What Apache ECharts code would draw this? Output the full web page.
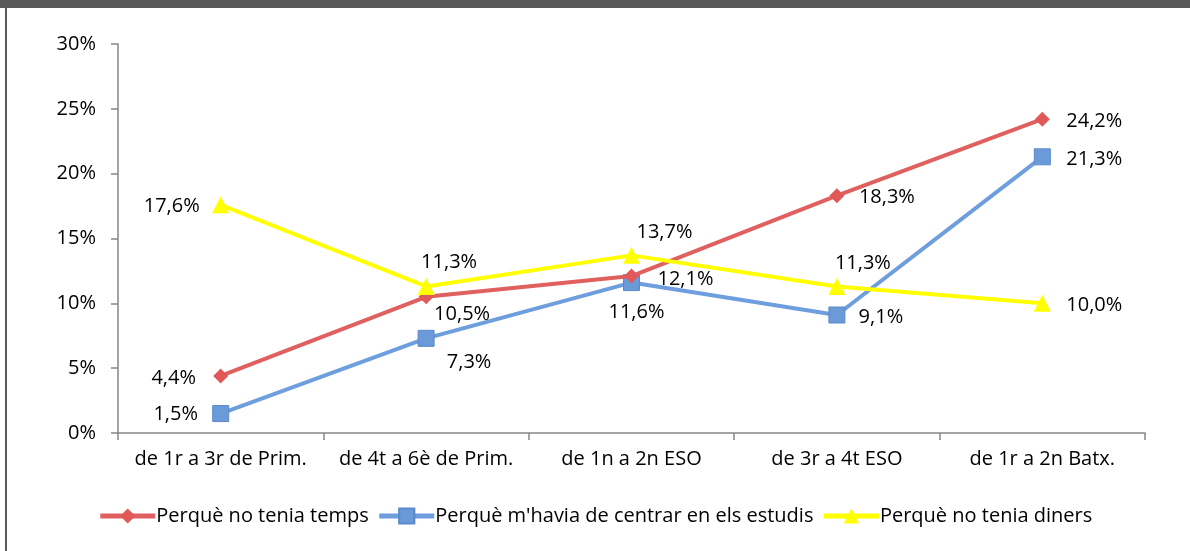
<!DOCTYPE html>
<html>
<head>
<meta charset="utf-8">
<script src="https://cdn.jsdelivr.net/npm/echarts@6/dist/echarts.min.js"></script>
<style>
  html, body { margin: 0; padding: 0; background: #fff; }
  #chart { width: 1190px; height: 551px; }
</style>
</head>
<body>
<div id="chart"></div>
<script>
const categories = ['de 1r a 3r de Prim.', 'de 4t a 6è de Prim.', 'de 1n a 2n ESO', 'de 3r a 4t ESO', 'de 1r a 2n Batx.'];
const seriesNames = ['Perquè no tenia temps', "Perquè m'havia de centrar en els estudis", 'Perquè no tenia diners'];
const tempsValues = [4.4, 10.5, 12.1, 18.3, 24.2];
const estudisValues = [1.5, 7.3, 11.6, 9.1, 21.3];
const dinersValues = [17.6, 11.3, 13.7, 11.3, 10.0];
const yTicks = [0, 5, 10, 15, 20, 25, 30];

// label offsets (px) from each point centre, like the Excel placement
const tempsOffsets = [[-47, 2], [36, 17], [54, 3], [50, 2], [52, 2]];
const estudisOffsets = [[-45, 1], [43, 24], [5, 30], [44, 2], [52, 2]];
const dinersOffsets = [[-49, 2], [23, -24], [33, -23], [26, -23], [52, 2]];

const FONT = "'Open Sans', sans-serif";
const fmt = (v) => v.toFixed(1).replace('.', ',') + '%';

function withLabels(values, offsets) {
  return values.map((v, i) => ({
    value: v,
    label: { offset: offsets[i] }
  }));
}

const myChart = echarts.init(document.getElementById('chart'));

const labelBase = {
  show: true,
  position: 'inside',
  color: '#000',
  fontSize: 20,
  fontFamily: FONT,
  formatter: (p) => fmt(p.value)
};

const option = {
  backgroundColor: '#fff',
  animation: false,
  graphic: [
    { type: 'rect', shape: { x: 0, y: 0, width: 1190, height: 8 }, style: { fill: '#595959' } },
    { type: 'rect', shape: { x: 5, y: 8, width: 2, height: 543 }, style: { fill: '#595959' } }
  ],
  grid: { left: 118, right: 45, top: 44, bottom: 118, containLabel: false },
  legend: {
    bottom: 20,
    left: 'center',
    itemWidth: 55,
    itemHeight: 19,
    itemGap: 8,
    lineStyle: { width: 5 },
    textStyle: { color: '#000', fontSize: 20, fontFamily: FONT, padding: [0, 0, 0, -4] },
    data: seriesNames
  },
  xAxis: {
    type: 'category',
    data: categories,
    boundaryGap: true,
    axisLine: { lineStyle: { color: '#868686', width: 1.5 } },
    axisTick: { show: true, length: 7, lineStyle: { color: '#868686', width: 1.5 } },
    axisLabel: { color: '#000', fontSize: 20, fontFamily: FONT, margin: 16, interval: 0 }
  },
  yAxis: {
    type: 'value',
    min: yTicks[0],
    max: yTicks[yTicks.length - 1],
    interval: 5,
    axisLine: { show: true, lineStyle: { color: '#868686', width: 1.5 } },
    axisTick: { show: true, length: 7, lineStyle: { color: '#868686', width: 1.5 } },
    splitLine: { show: false },
    axisLabel: { color: '#000', fontSize: 20, fontFamily: FONT, margin: 22, formatter: '{value}%' }
  },
  series: [
    {
      name: seriesNames[0],
      type: 'line',
      data: withLabels(tempsValues, tempsOffsets),
      symbol: 'diamond',
      symbolSize: 15,
      lineStyle: { color: '#E06060', width: 4 },
      itemStyle: { color: '#E05858' },
      label: labelBase,
      z: 3
    },
    {
      name: seriesNames[1],
      type: 'line',
      data: withLabels(estudisValues, estudisOffsets),
      symbol: 'rect',
      symbolSize: 16,
      lineStyle: { color: '#6E9EDD', width: 4 },
      itemStyle: { color: '#6A9AD8', borderColor: '#5B8ACB', borderWidth: 1 },
      label: labelBase,
      z: 2
    },
    {
      name: seriesNames[2],
      type: 'line',
      data: withLabels(dinersValues, dinersOffsets),
      symbol: 'triangle',
      symbolSize: 17,
      lineStyle: { color: '#FFFF00', width: 4 },
      itemStyle: { color: '#FFFF00' },
      label: labelBase,
      z: 4
    }
  ]
};

myChart.setOption(option);
</script>
</body>
</html>
